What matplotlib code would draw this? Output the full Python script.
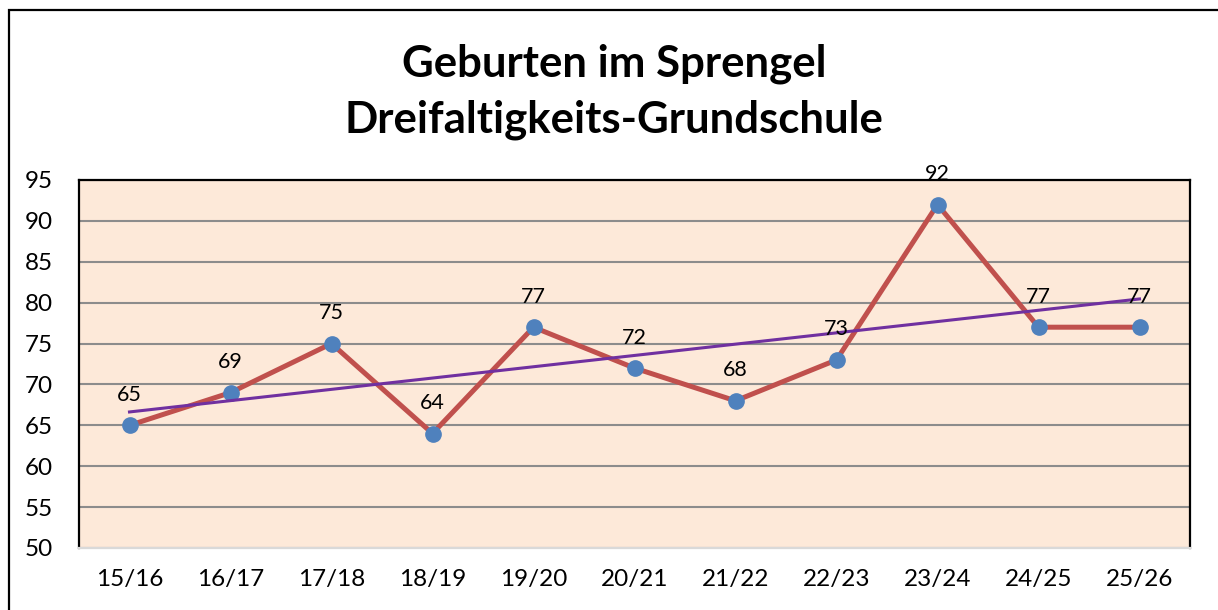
import numpy as np
import matplotlib.pyplot as plt
from matplotlib.patches import Rectangle

plt.rcParams['font.family'] = ['Lato', 'DejaVu Sans']

jahre = ['15/16', '16/17', '17/18', '18/19', '19/20', '20/21',
         '21/22', '22/23', '23/24', '24/25', '25/26']
geburten = [65, 69, 75, 64, 77, 72, 68, 73, 92, 77, 77]
y_ticks = [50, 55, 60, 65, 70, 75, 80, 85, 90, 95]

W, H = 1218, 610
fig = plt.figure(figsize=(W / 100, H / 100), dpi=100)

# outer chart border (runs off right and bottom edge)
fig.patches.append(Rectangle((9 / W, -0.1), 1.2, 1 - 10 / H + 0.1,
                             transform=fig.transFigure, fill=False,
                             edgecolor='black', linewidth=1.6))

ax = fig.add_axes([79 / W, 1 - 548 / H, (1190 - 79) / W, (548 - 180) / H])
ax.set_facecolor('#FDE9D9')

x = np.arange(len(jahre))
ax.plot(x, geburten, color='#C0504D', linewidth=3.6, zorder=3)
ax.plot(x, geburten, 'o', color='#4F81BD', markersize=11, zorder=4)

# linear trend line
k, d = np.polyfit(x, geburten, 1)
ax.plot(x, k * x + d, color='#7030A0', linewidth=2.2, zorder=5)

for xi, yi in zip(x, geburten):
    ax.annotate(str(yi), (xi, yi), xytext=(0, 22), textcoords='offset points',
                ha='center', va='center', fontsize=15.5, zorder=6)

ax.set_xlim(-0.5, len(jahre) - 0.5)
ax.set_ylim(50, 95)
ax.set_yticks(y_ticks)
ax.set_xticks(x)
ax.set_xticklabels(jahre)
ax.tick_params(axis='both', length=0, labelsize=17.5)
ax.tick_params(axis='y', pad=19)
ax.tick_params(axis='x', pad=15)

ax.grid(axis='y', color='#8C8C8C', linewidth=1.5)
ax.set_axisbelow(True)
for s in ['left', 'top', 'right']:
    ax.spines[s].set_color('black')
    ax.spines[s].set_linewidth(1.6)
ax.spines['bottom'].set_color('#D9D9D9')
ax.spines['bottom'].set_linewidth(1.6)

fig.text(614 / W, 1 - 64 / H, 'Geburten im Sprengel', ha='center',
         va='center', fontsize=31.5, fontweight='bold')
fig.text(614 / W, 1 - 120 / H, 'Dreifaltigkeits-Grundschule', ha='center',
         va='center', fontsize=31.5, fontweight='bold')

fig.savefig('out.png', dpi=100)
